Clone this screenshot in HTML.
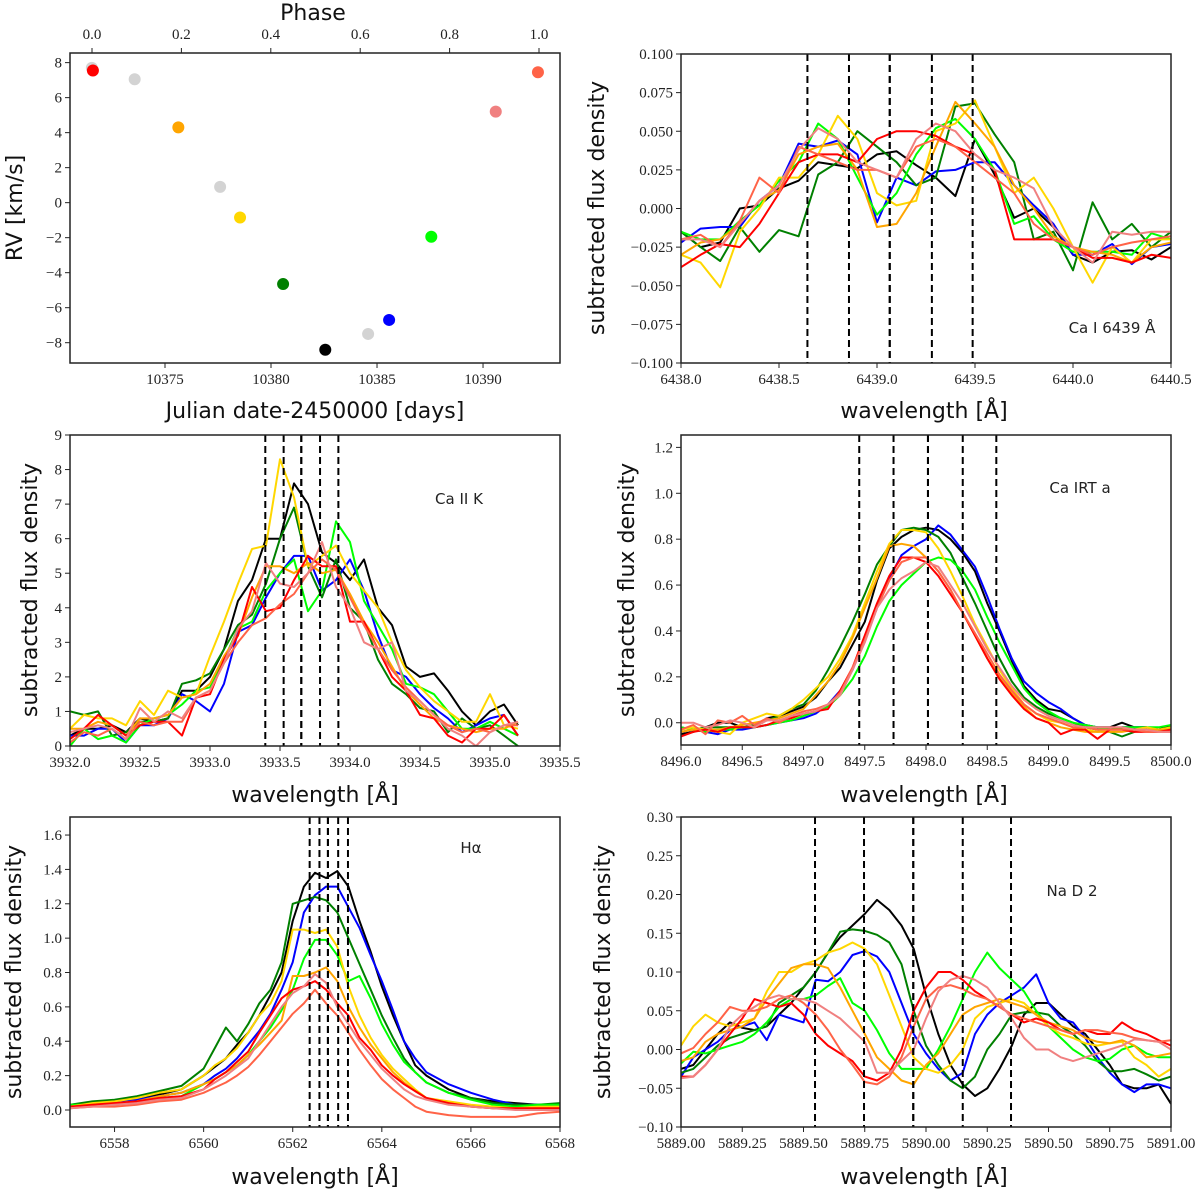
<!DOCTYPE html>
<html><head><meta charset="utf-8">
<style>
html,body{margin:0;padding:0;background:#fff;}
svg{display:block;}
.tick{font-family:"Liberation Serif",serif;font-size:15px;fill:#222;}
.lab{font-family:"DejaVu Sans","Liberation Sans",sans-serif;font-size:22px;fill:#111;}
.ann{font-family:"DejaVu Sans","Liberation Sans",sans-serif;font-size:15px;fill:#222;}
</style></head>
<body>
<svg id="fig" width="1200" height="1191" viewBox="0 0 1200 1191" xmlns="http://www.w3.org/2000/svg"></svg>
<script>
// ---------- RV panel data ----------
const rvDays = [10371.55,10371.6,10373.57,10375.63,10377.6,10378.54,10380.57,10382.56,10384.58,10385.57,10387.56,10390.6,10392.59];
const rvValues = [7.7,7.55,7.05,4.3,0.9,-0.85,-4.65,-8.4,-7.5,-6.7,-1.95,5.2,7.45];
const rvColors = ["#d3d3d3","#ff0000","#d3d3d3","#ffa500","#d3d3d3","#ffd700","#008000","#000000","#d3d3d3","#0000ff","#00ff00","#f08080","#ff6347"];
const rvXTicks = [10375,10380,10385,10390];
const rvYTicks = [-8,-6,-4,-2,0,2,4,6,8];
const phaseTicks = [0.0,0.2,0.4,0.6,0.8,1.0];

const seriesNames = ["black","blue","darkgreen","lime","gold","orange","red","tomato","salmon"];
const seriesColors = ["#000000","#0000ff","#008000","#00ff00","#ffd700","#ffa500","#ff0000","#ff6347","#f08080"];

// ---------- Ca I 6439 ----------
const caI_wl = [6438.0,6438.1,6438.2,6438.3,6438.4,6438.5,6438.6,6438.7,6438.8,6438.9,6439.0,6439.1,6439.2,6439.3,6439.4,6439.5,6439.6,6439.7,6439.8,6439.9,6440.0,6440.1,6440.2,6440.3,6440.4,6440.5];
const caI_black = [-0.015,-0.025,-0.022,0.0,0.002,0.013,0.018,0.03,0.028,0.026,0.035,0.037,0.028,0.02,0.008,0.045,0.022,-0.006,0.0,-0.012,-0.03,-0.035,-0.028,-0.027,-0.033,-0.025];
const caI_blue = [-0.022,-0.013,-0.012,-0.012,0.005,0.015,0.042,0.04,0.044,0.035,-0.009,0.02,0.015,0.024,0.025,0.03,0.03,0.015,0.002,-0.01,-0.03,-0.03,-0.023,-0.036,-0.025,-0.023];
const caI_darkgreen = [-0.015,-0.025,-0.034,-0.012,-0.028,-0.014,-0.018,0.022,0.03,0.05,0.04,0.03,0.015,0.02,0.066,0.068,0.048,0.03,-0.02,-0.015,-0.04,0.004,-0.02,-0.01,-0.025,-0.015];
const caI_lime = [-0.015,-0.02,-0.02,-0.008,0.002,0.018,0.03,0.055,0.045,0.02,-0.004,0.01,0.035,0.052,0.058,0.045,0.025,-0.01,-0.005,-0.02,-0.028,-0.028,-0.028,-0.03,-0.016,-0.02];
const caI_gold = [-0.03,-0.035,-0.051,-0.015,0.0,0.02,0.02,0.035,0.06,0.045,0.01,0.002,0.005,0.05,0.055,0.07,0.04,0.01,0.02,0.0,-0.025,-0.048,-0.025,-0.035,-0.02,-0.02];
const caI_orange = [-0.03,-0.022,-0.02,-0.01,0.005,0.012,0.035,0.04,0.042,0.025,-0.012,-0.01,0.01,0.04,0.069,0.055,0.04,0.015,0.0,-0.018,-0.025,-0.028,-0.03,-0.035,-0.025,-0.022];
const caI_red = [-0.038,-0.03,-0.023,-0.025,-0.01,0.01,0.03,0.035,0.035,0.03,0.045,0.05,0.05,0.047,0.04,0.035,0.025,-0.02,-0.02,-0.02,-0.025,-0.032,-0.032,-0.035,-0.03,-0.032];
const caI_tomato = [-0.02,-0.017,-0.025,-0.008,0.02,0.01,0.04,0.035,0.03,0.025,0.025,0.02,0.04,0.045,0.04,0.03,0.02,0.01,-0.01,-0.02,-0.025,-0.03,-0.025,-0.022,-0.02,-0.018];
const caI_salmon = [-0.02,-0.02,-0.025,-0.01,0.005,0.015,0.038,0.052,0.045,0.03,0.025,0.02,0.045,0.055,0.05,0.035,0.025,0.02,0.013,-0.012,-0.025,-0.035,-0.015,-0.017,-0.015,-0.015];
const caI_lines = [6438.645,6438.857,6439.065,6439.065,6439.28,6439.488];
const caI_xticks = [6438.0,6438.5,6439.0,6439.5,6440.0,6440.5];
const caI_yticks = [-0.1,-0.075,-0.05,-0.025,0,0.025,0.05,0.075,0.1];

// ---------- Ca II K ----------
const caK_wl = [3932.0,3932.1,3932.2,3932.3,3932.4,3932.5,3932.6,3932.7,3932.8,3932.9,3933.0,3933.1,3933.2,3933.3,3933.4,3933.5,3933.6,3933.7,3933.8,3933.9,3934.0,3934.1,3934.2,3934.3,3934.4,3934.5,3934.6,3934.7,3934.8,3934.9,3935.0,3935.1,3935.2];
const caK_black = [0.3,0.5,0.5,0.6,0.4,0.8,0.7,0.8,1.6,1.6,2.0,2.8,4.2,4.8,6.0,6.0,7.6,7.0,5.6,5.3,4.8,5.4,4.0,3.5,2.3,2.0,2.1,1.6,1.0,0.6,1.0,1.2,0.6];
const caK_blue = [0.3,0.3,0.5,0.5,0.1,0.6,0.6,0.8,1.5,1.3,1.0,1.8,3.3,3.5,4.3,5.0,5.5,5.5,4.5,4.8,5.4,4.5,3.2,2.2,2.0,1.5,1.1,0.8,0.4,0.6,0.8,0.9,0.3];
const caK_darkgreen = [1.0,0.9,1.0,0.3,0.4,0.7,0.7,0.8,1.8,1.9,2.1,2.8,3.5,3.8,4.7,6.0,6.9,5.2,4.3,5.4,4.0,3.6,2.5,1.8,1.5,1.1,1.0,0.4,0.8,0.5,0.6,0.3,0.0];
const caK_lime = [0.0,0.5,0.2,0.3,0.1,0.6,0.8,0.9,1.2,1.6,1.7,2.5,3.4,3.6,4.5,5.0,5.4,3.9,4.5,6.5,5.9,4.2,3.5,2.8,1.8,1.7,1.5,1.0,0.5,0.5,0.7,0.5,0.3];
const caK_gold = [0.5,0.9,0.8,0.8,0.6,1.3,0.9,1.6,1.4,1.5,2.6,3.6,4.7,5.7,5.8,8.3,7.2,5.2,5.5,5.8,5.0,4.5,4.0,3.0,2.2,1.7,1.3,1.0,0.7,0.7,1.5,0.6,0.5];
const caK_orange = [0.5,0.5,0.7,0.6,0.3,0.8,0.8,0.9,1.4,1.5,1.8,2.6,3.2,4.3,5.2,5.2,5.0,5.3,5.0,5.1,4.4,3.6,3.0,2.3,1.6,1.2,0.8,0.6,0.5,0.4,0.5,0.5,0.7];
const caK_red = [0.2,0.5,0.9,0.6,0.3,0.6,0.7,0.7,0.3,1.4,1.5,2.5,3.2,4.6,3.9,4.0,4.8,5.5,5.2,5.2,3.6,3.6,2.8,2.0,1.6,0.9,0.8,0.3,0.1,0.5,0.5,0.9,0.3];
const caK_tomato = [0.1,0.4,0.3,0.5,0.2,0.7,0.6,0.7,0.7,1.4,1.6,2.4,3.0,3.5,3.7,4.1,4.4,5.0,5.4,5.1,4.3,3.5,2.8,2.2,1.7,1.3,0.9,0.6,0.4,0.5,0.4,0.6,0.6];
const caK_salmon = [0.4,0.5,0.6,0.5,0.2,1.1,0.7,1.0,0.8,1.4,1.6,2.4,3.4,3.9,5.3,4.7,4.6,5.0,5.9,4.6,4.0,3.0,2.8,3.0,1.6,1.3,0.9,0.5,0.3,0.0,0.4,0.6,0.7];
const caK_lines = [3933.395,3933.526,3933.652,3933.652,3933.786,3933.917];
const caK_xticks = [3932.0,3932.5,3933.0,3933.5,3934.0,3934.5,3935.0,3935.5];
const caK_yticks = [0,1,2,3,4,5,6,7,8,9];

// ---------- Ca IRT a ----------
const irt_wl = [8496.0,8496.1,8496.2,8496.3,8496.4,8496.5,8496.6,8496.7,8496.8,8496.9,8497.0,8497.1,8497.2,8497.3,8497.4,8497.5,8497.6,8497.7,8497.8,8497.9,8498.0,8498.1,8498.2,8498.3,8498.4,8498.5,8498.6,8498.7,8498.8,8498.9,8499.0,8499.1,8499.2,8499.3,8499.4,8499.5,8499.6,8499.7,8499.8,8499.9,8500.0];
const irt_black = [-0.05,-0.04,-0.02,0.0,0.0,-0.02,-0.02,0.02,0.03,0.05,0.07,0.11,0.18,0.24,0.34,0.44,0.62,0.76,0.81,0.84,0.85,0.84,0.80,0.74,0.66,0.52,0.40,0.27,0.16,0.10,0.06,0.05,0.02,-0.01,-0.02,-0.02,0.0,-0.02,-0.02,-0.03,-0.01];
const irt_blue = [-0.04,-0.03,-0.04,-0.05,-0.03,-0.03,-0.02,-0.01,0.0,0.01,0.02,0.04,0.08,0.14,0.23,0.36,0.50,0.63,0.73,0.77,0.80,0.86,0.82,0.75,0.68,0.55,0.41,0.28,0.18,0.13,0.09,0.06,0.02,-0.01,-0.02,-0.03,-0.02,-0.02,-0.02,-0.03,-0.03];
const irt_darkgreen = [-0.02,-0.03,-0.02,-0.02,-0.02,-0.02,-0.01,0.01,0.03,0.06,0.08,0.14,0.23,0.33,0.44,0.56,0.69,0.77,0.84,0.85,0.84,0.81,0.74,0.63,0.52,0.40,0.28,0.18,0.11,0.07,0.04,0.02,0.0,-0.02,-0.03,-0.04,-0.06,-0.04,-0.02,-0.03,-0.02];
const irt_lime = [-0.02,-0.03,-0.04,-0.03,-0.03,-0.02,-0.02,-0.01,0.0,0.01,0.03,0.05,0.07,0.12,0.19,0.29,0.42,0.53,0.60,0.65,0.70,0.72,0.71,0.66,0.58,0.46,0.35,0.25,0.15,0.09,0.05,0.02,0.0,-0.01,-0.02,-0.03,-0.02,-0.02,-0.02,-0.02,-0.01];
const irt_gold = [-0.03,-0.02,-0.03,-0.04,-0.05,0.0,0.02,0.04,0.03,0.06,0.10,0.15,0.20,0.28,0.38,0.52,0.66,0.78,0.84,0.84,0.83,0.76,0.66,0.55,0.43,0.33,0.23,0.15,0.08,0.04,0.01,0.0,-0.02,-0.03,-0.04,-0.03,-0.03,-0.03,-0.02,-0.03,-0.02];
const irt_orange = [-0.04,-0.03,-0.03,-0.03,-0.02,-0.01,0.0,0.01,0.02,0.04,0.06,0.12,0.18,0.26,0.37,0.50,0.63,0.77,0.78,0.77,0.72,0.66,0.58,0.48,0.38,0.28,0.20,0.13,0.07,0.02,0.0,-0.02,-0.03,-0.04,-0.04,-0.04,-0.04,-0.03,-0.03,-0.03,-0.03];
const irt_red = [-0.06,-0.04,-0.03,-0.04,-0.02,-0.02,-0.02,-0.01,0.01,0.02,0.04,0.05,0.06,0.14,0.24,0.38,0.52,0.64,0.72,0.72,0.70,0.64,0.56,0.48,0.38,0.28,0.19,0.12,0.06,0.02,0.0,-0.05,-0.03,-0.03,-0.07,-0.03,-0.03,-0.04,-0.04,-0.04,-0.03];
const irt_tomato = [-0.03,-0.01,-0.05,0.01,0.0,0.03,-0.01,0.02,0.0,0.03,0.05,0.06,0.08,0.13,0.24,0.36,0.50,0.62,0.70,0.72,0.72,0.66,0.58,0.48,0.39,0.30,0.21,0.14,0.08,0.04,0.02,0.0,-0.02,-0.02,-0.03,-0.03,-0.03,-0.03,-0.04,-0.04,-0.04];
const irt_salmon = [0.0,0.0,-0.02,-0.01,0.01,0.0,-0.02,0.01,0.01,0.03,0.04,0.05,0.08,0.12,0.23,0.35,0.50,0.58,0.63,0.66,0.70,0.68,0.60,0.52,0.42,0.32,0.24,0.16,0.10,0.06,0.03,0.01,-0.01,-0.02,-0.02,-0.02,-0.02,-0.03,-0.03,-0.04,-0.04];
const irt_lines = [8497.455,8497.735,8498.016,8498.016,8498.3,8498.574];
const irt_xticks = [8496.0,8496.5,8497.0,8497.5,8498.0,8498.5,8499.0,8499.5,8500.0];
const irt_yticks = [0.0,0.2,0.4,0.6,0.8,1.0,1.2];

// ---------- H alpha ----------
const ha_wl = [6557,6557.5,6558,6558.5,6559,6559.5,6560,6560.25,6560.5,6560.75,6561,6561.25,6561.5,6561.75,6562,6562.25,6562.5,6562.75,6563,6563.25,6563.5,6563.75,6564,6564.25,6564.5,6564.75,6565,6565.5,6566,6566.5,6567,6567.5,6568];
const ha_black = [0.03,0.04,0.05,0.07,0.09,0.12,0.20,0.25,0.30,0.38,0.45,0.55,0.67,0.80,1.10,1.30,1.38,1.35,1.39,1.30,1.10,0.92,0.72,0.55,0.40,0.26,0.20,0.12,0.07,0.05,0.04,0.03,0.03];
const ha_blue = [0.02,0.04,0.05,0.06,0.08,0.10,0.15,0.20,0.24,0.30,0.38,0.46,0.56,0.70,0.86,1.15,1.25,1.30,1.30,1.18,1.06,0.90,0.75,0.58,0.40,0.30,0.22,0.15,0.10,0.06,0.03,0.03,0.02];
const ha_darkgreen = [0.03,0.05,0.06,0.08,0.11,0.14,0.24,0.36,0.48,0.40,0.50,0.62,0.70,0.86,1.20,1.22,1.24,1.22,1.15,1.00,0.85,0.70,0.55,0.42,0.30,0.22,0.16,0.10,0.07,0.04,0.03,0.03,0.04];
const ha_lime = [0.03,0.03,0.03,0.05,0.07,0.08,0.15,0.18,0.22,0.26,0.32,0.40,0.48,0.58,0.70,0.88,0.99,0.99,0.90,0.75,0.78,0.65,0.50,0.38,0.28,0.22,0.16,0.10,0.06,0.03,0.02,0.03,0.03];
const ha_gold = [0.02,0.04,0.05,0.07,0.10,0.12,0.20,0.26,0.30,0.36,0.45,0.55,0.62,0.75,1.05,1.05,1.03,1.05,0.95,0.72,0.55,0.42,0.32,0.24,0.18,0.12,0.07,0.05,0.03,0.02,0.01,0.02,0.02];
const ha_orange = [0.01,0.03,0.04,0.05,0.08,0.10,0.15,0.18,0.22,0.26,0.32,0.38,0.45,0.52,0.78,0.78,0.80,0.83,0.75,0.60,0.48,0.38,0.30,0.22,0.16,0.11,0.07,0.04,0.02,0.01,0.01,0.01,0.01];
const ha_red = [0.02,0.03,0.04,0.05,0.07,0.08,0.12,0.18,0.22,0.28,0.34,0.45,0.55,0.65,0.70,0.72,0.75,0.70,0.62,0.55,0.42,0.35,0.26,0.20,0.15,0.11,0.07,0.04,0.02,0.01,0.01,0.01,0.01];
const ha_tomato = [0.01,0.02,0.02,0.03,0.05,0.06,0.10,0.13,0.16,0.20,0.25,0.32,0.40,0.48,0.56,0.62,0.70,0.62,0.55,0.45,0.35,0.26,0.18,0.12,0.07,0.02,-0.01,-0.03,-0.04,-0.04,-0.04,-0.02,-0.01];
const ha_salmon = [0.01,0.02,0.03,0.04,0.06,0.07,0.12,0.16,0.20,0.25,0.30,0.40,0.50,0.60,0.68,0.72,0.79,0.74,0.60,0.50,0.40,0.32,0.24,0.18,0.12,0.08,0.06,0.03,0.02,0.01,0.0,0.0,0.0];
const ha_lines = [6562.38,6562.6,6562.79,6562.79,6563.02,6563.24];
const ha_xticks = [6558,6560,6562,6564,6566,6568];
const ha_yticks = [0.0,0.2,0.4,0.6,0.8,1.0,1.2,1.4,1.6];

// ---------- Na D 2 ----------
const na_wl = [5889.00,5889.05,5889.10,5889.15,5889.20,5889.25,5889.30,5889.35,5889.40,5889.45,5889.50,5889.55,5889.60,5889.65,5889.70,5889.75,5889.80,5889.85,5889.90,5889.95,5890.00,5890.05,5890.10,5890.15,5890.20,5890.25,5890.30,5890.35,5890.40,5890.45,5890.50,5890.55,5890.60,5890.65,5890.70,5890.75,5890.80,5890.85,5890.90,5890.95,5891.00];
const na_black = [-0.025,-0.02,0.0,0.02,0.035,0.028,0.025,0.03,0.045,0.06,0.08,0.10,0.125,0.145,0.16,0.175,0.193,0.18,0.16,0.13,0.07,0.02,-0.02,-0.045,-0.06,-0.05,-0.025,0.005,0.045,0.06,0.06,0.045,0.03,0.02,0.0,-0.02,-0.045,-0.05,-0.05,-0.045,-0.07];
const na_blue = [-0.035,-0.01,0.0,0.01,0.025,0.03,0.035,0.012,0.045,0.04,0.035,0.09,0.088,0.1,0.122,0.127,0.12,0.1,0.06,0.02,-0.005,-0.025,-0.04,-0.03,0.02,0.045,0.06,0.07,0.08,0.097,0.06,0.04,0.035,0.015,-0.01,-0.03,-0.045,-0.055,-0.045,-0.045,-0.05];
const na_darkgreen = [-0.03,-0.025,-0.01,0.005,0.015,0.02,0.025,0.03,0.06,0.07,0.08,0.1,0.125,0.152,0.155,0.153,0.148,0.138,0.11,0.05,0.005,-0.02,-0.04,-0.05,-0.035,0.0,0.02,0.045,0.048,0.048,0.045,0.03,0.02,0.005,-0.015,-0.028,-0.028,-0.025,-0.032,-0.04,-0.035];
const na_lime = [-0.018,-0.003,-0.005,0.0,0.005,0.01,0.02,0.035,0.055,0.065,0.065,0.07,0.082,0.092,0.06,0.05,0.025,-0.005,-0.025,-0.025,-0.025,0.0,0.03,0.065,0.1,0.125,0.105,0.09,0.075,0.05,0.03,0.015,0.0,-0.01,-0.015,-0.012,0.0,0.005,-0.005,-0.01,-0.01];
const na_gold = [0.005,0.03,0.045,0.035,0.03,0.035,0.04,0.075,0.1,0.1,0.11,0.115,0.125,0.13,0.138,0.13,0.11,0.07,0.03,-0.01,-0.025,-0.03,-0.02,0.0,0.04,0.055,0.06,0.065,0.06,0.045,0.03,0.02,0.015,0.008,0.005,0.008,0.01,-0.01,-0.02,-0.035,-0.025];
const na_orange = [-0.015,-0.01,0.01,0.02,0.025,0.03,0.04,0.065,0.085,0.105,0.11,0.11,0.105,0.08,0.05,0.02,-0.01,-0.025,-0.04,-0.045,-0.02,-0.005,0.02,0.045,0.055,0.06,0.065,0.06,0.055,0.045,0.035,0.03,0.025,0.015,0.01,0.008,0.012,0.005,-0.01,-0.008,-0.005];
const na_red = [-0.035,-0.035,-0.02,0.0,0.02,0.04,0.065,0.06,0.055,0.06,0.045,0.02,0.005,-0.005,-0.015,-0.035,-0.04,-0.03,0.0,0.05,0.08,0.1,0.1,0.09,0.075,0.065,0.055,0.045,0.035,0.04,0.035,0.025,0.02,0.025,0.02,0.02,0.035,0.025,0.02,0.012,0.005];
const na_tomato = [-0.005,0.002,0.02,0.035,0.055,0.05,0.05,0.055,0.065,0.07,0.06,0.045,0.025,0.0,-0.02,-0.042,-0.045,-0.035,-0.01,0.03,0.065,0.08,0.083,0.078,0.07,0.065,0.055,0.045,0.04,0.035,0.03,0.025,0.02,0.025,0.025,0.022,0.02,0.015,0.012,0.01,0.012];
const na_salmon = [-0.037,-0.035,-0.02,0.0,0.03,0.045,0.055,0.065,0.07,0.065,0.065,0.06,0.05,0.04,0.025,0.01,-0.03,-0.03,-0.015,0.0,0.04,0.075,0.09,0.095,0.09,0.08,0.06,0.04,0.015,0.0,0.0,-0.01,-0.015,-0.01,-0.005,0.0,0.005,0.013,0.012,0.01,0.0];
const na_lines = [5889.547,5889.747,5889.948,5889.948,5890.15,5890.347];
const na_xticks = [5889.00,5889.25,5889.50,5889.75,5890.00,5890.25,5890.50,5890.75,5891.00];
const na_yticks = [-0.10,-0.05,0.0,0.05,0.10,0.15,0.20,0.25,0.30];

const NS = "http://www.w3.org/2000/svg";
const fig = document.getElementById("fig");
function mk(tag, attrs, parent) {
  const e = document.createElementNS(NS, tag);
  for (const k in attrs) e.setAttribute(k, attrs[k]);
  (parent || fig).appendChild(e);
  return e;
}
function fmt(v, d) { const s = Math.abs(v).toFixed(d); return (v < -1e-9 ? "\u2212" : "") + s; }

function axes(name, box, xlim, ylim) {
  const sx = v => box.x0 + (v - xlim[0]) / (xlim[1] - xlim[0]) * (box.x1 - box.x0);
  const sy = v => box.y1 - (v - ylim[0]) / (ylim[1] - ylim[0]) * (box.y1 - box.y0);
  const g = mk("g", {});
  
  
  const cp = mk("clipPath", {id: "clip-" + name}, g);
  mk("rect", {x: box.x0, y: box.y0, width: box.x1 - box.x0, height: box.y1 - box.y0}, cp);
  const plot = mk("g", {"clip-path": "url(#clip-" + name + ")"}, g);
  
  
  return {sx, sy, g, plot, box};
}
function frame(ax, name) {
  const b = ax.box;
  const r = mk("rect", {x: b.x0, y: b.y0, width: b.x1 - b.x0, height: b.y1 - b.y0, fill: "none", stroke: "#222", "stroke-width": 1.5}, ax.g);
  
  
}
function xTicks(ax, name, ticks, dec) {
  const grp = mk("g", {}, ax.g);
  
  
  ticks.forEach(t => {
    const x = ax.sx(t);
    mk("line", {x1: x, x2: x, y1: ax.box.y1, y2: ax.box.y1 + 5, stroke: "#222", "stroke-width": 1}, grp);
    const tx = mk("text", {x: x, y: ax.box.y1 + 21, "text-anchor": "middle", class: "tick"}, grp);
    tx.textContent = fmt(t, dec);
  });
}
function yTicks(ax, name, ticks, dec) {
  const grp = mk("g", {}, ax.g);
  
  
  ticks.forEach(t => {
    const y = ax.sy(t);
    mk("line", {x1: ax.box.x0 - 5, x2: ax.box.x0, y1: y, y2: y, stroke: "#222", "stroke-width": 1}, grp);
    const tx = mk("text", {x: ax.box.x0 - 8, y: y + 5, "text-anchor": "end", class: "tick"}, grp);
    tx.textContent = fmt(t, dec);
  });
}
function label(text, x, y, rot, name, cls) {
  const t = mk("text", {x: x, y: y, "text-anchor": "middle", class: cls || "lab", transform: rot ? "rotate(-90 " + x + " " + y + ")" : ""});
  t.textContent = text;
  
  
  return t;
}
function spectraPanel(name, box, xlim, ylim, wl, series, lines, xt, xdec, yt, ydec, ann, annXY) {
  const ax = axes(name, box, xlim, ylim);
  series.forEach((vals, i) => {
    const d = vals.map((v, j) => (j ? "L" : "M") + ax.sx(wl[j]).toFixed(1) + " " + ax.sy(v).toFixed(1)).join("");
    const p = mk("path", {d: d, fill: "none", stroke: seriesColors[i], "stroke-width": 2, "stroke-linejoin": "round"}, ax.plot);
    
    
  });
  lines.forEach((l, i) => {
    const x = ax.sx(l);
    const ln = mk("line", {x1: x, x2: x, y1: box.y0, y2: box.y1, stroke: "#000", "stroke-width": 2, "stroke-dasharray": "7,4"}, ax.plot);
    
    
  });
  frame(ax, name);
  xTicks(ax, name, xt, xdec);
  yTicks(ax, name, yt, ydec);
  const a = mk("text", {x: annXY[0], y: annXY[1], "text-anchor": "middle", class: "ann"});
  a.textContent = ann;
  
  
  return ax;
}

// ----- Panel 1: RV -----
const rvBox = {x0: 70, x1: 560, y0: 53, y1: 363};
const rvAx = axes("rv", rvBox, [10370.52, 10393.63], [-9.16, 8.55]);
rvDays.forEach((d, i) => {
  const c = mk("circle", {cx: rvAx.sx(d), cy: rvAx.sy(rvValues[i]), r: 6, fill: rvColors[i]}, rvAx.plot);
  
  
});
frame(rvAx, "rv");
xTicks(rvAx, "rv", rvXTicks, 0);
yTicks(rvAx, "rv", rvYTicks, 0);
const phaseG = mk("g", {});


const phaseToPx = p => 92 + p * 447;
phaseTicks.forEach(p => {
  const x = phaseToPx(p);
  mk("line", {x1: x, x2: x, y1: rvBox.y0 - 5, y2: rvBox.y0, stroke: "#222", "stroke-width": 1}, phaseG);
  const t = mk("text", {x: x, y: rvBox.y0 - 14, "text-anchor": "middle", class: "tick"}, phaseG);
  t.textContent = p.toFixed(1);
});
label("Phase", 313, 20, false, "phase-axis-title");
label("RV [km/s]", 22, 208, true, "rv-y-axis-title", "lab");
label("Julian date-2450000 [days]", 315, 418, false, "rv-x-axis-title");

// ----- Other panels -----
spectraPanel("ca-i", {x0: 681, x1: 1171, y0: 54, y1: 363}, [6438.0, 6440.5], [-0.1, 0.1], caI_wl,
  [caI_black, caI_blue, caI_darkgreen, caI_lime, caI_gold, caI_orange, caI_red, caI_tomato, caI_salmon],
  caI_lines, caI_xticks, 1, caI_yticks, 3, "Ca I 6439 \u00c5", [1112, 333]);
label("subtracted flux density", 604, 208, true, "ca-i-y-axis-title");
label("wavelength [\u00c5]", 924, 418, false, "ca-i-x-axis-title");

spectraPanel("ca-ii-k", {x0: 70, x1: 560, y0: 435, y1: 746}, [3932.0, 3935.5], [0, 9], caK_wl,
  [caK_black, caK_blue, caK_darkgreen, caK_lime, caK_gold, caK_orange, caK_red, caK_tomato, caK_salmon],
  caK_lines, caK_xticks, 1, caK_yticks, 0, "Ca II K", [459, 504]);
label("subtracted flux density", 37, 590, true, "ca-ii-k-y-axis-title");
label("wavelength [\u00c5]", 315, 802, false, "ca-ii-k-x-axis-title");

spectraPanel("ca-irt", {x0: 681, x1: 1171, y0: 435, y1: 745}, [8496.0, 8500.0], [-0.097, 1.254], irt_wl,
  [irt_black, irt_blue, irt_darkgreen, irt_lime, irt_gold, irt_orange, irt_red, irt_tomato, irt_salmon],
  irt_lines, irt_xticks, 1, irt_yticks, 1, "Ca IRT a", [1080, 493]);
label("subtracted flux density", 634, 590, true, "ca-irt-y-axis-title");
label("wavelength [\u00c5]", 924, 802, false, "ca-irt-x-axis-title");

spectraPanel("h-alpha", {x0: 70, x1: 560, y0: 817, y1: 1127}, [6557.0, 6568.0], [-0.099, 1.705], ha_wl,
  [ha_black, ha_blue, ha_darkgreen, ha_lime, ha_gold, ha_orange, ha_red, ha_tomato, ha_salmon],
  ha_lines, ha_xticks, 0, ha_yticks, 1, "H\u03b1", [471, 853]);
label("subtracted flux density", 21, 972, true, "h-alpha-y-axis-title");
label("wavelength [\u00c5]", 315, 1184, false, "h-alpha-x-axis-title");

spectraPanel("na-d2", {x0: 681, x1: 1171, y0: 817, y1: 1127}, [5889.0, 5891.0], [-0.1, 0.3], na_wl,
  [na_black, na_blue, na_darkgreen, na_lime, na_gold, na_orange, na_red, na_tomato, na_salmon],
  na_lines, na_xticks, 2, na_yticks, 2, "Na D 2", [1072, 896]);
label("subtracted flux density", 610, 972, true, "na-d2-y-axis-title");
label("wavelength [\u00c5]", 924, 1184, false, "na-d2-x-axis-title");
</script>
</body></html>
